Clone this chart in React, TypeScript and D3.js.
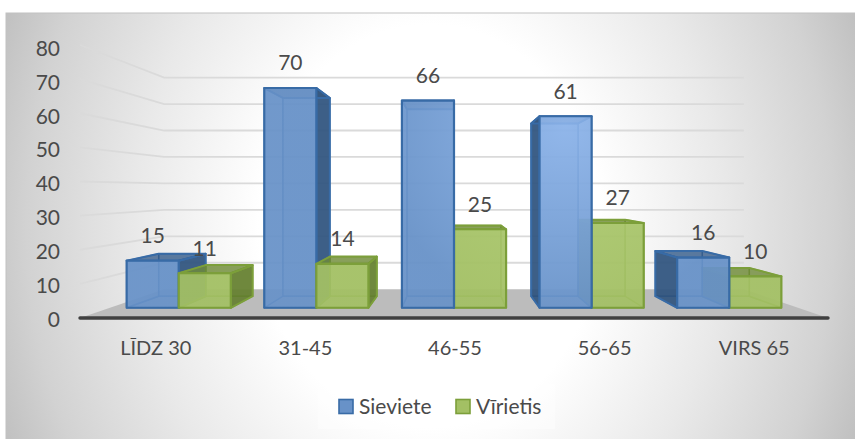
import { useEffect, useRef } from "react";
import * as d3 from "d3";

const categories = ["LĪDZ 30", "31-45", "46-55", "56-65", "VIRS 65"];
const seriesNames = ["Sieviete", "Vīrietis"];
const sieviete = [15, 70, 66, 61, 16];
const virietis = [11, 14, 25, 27, 10];
const yTicks = [0, 10, 20, 30, 40, 50, 60, 70, 80];

const width = 855;
const height = 439;
const fontFamily = "Lato, Carlito, sans-serif";
const textColor = "#4a4a4a";

// fake 3D: everything is laid out on the axis plane and then pulled toward a vanishing point
const vanishX = 454;
const vanishY = 190;
const depthAxis = 1;
const depthFront = 0.92;
const depthBack = 0.83;
const depthWall = 0.775;

const seriesStyle = [
  { light: "#8fb6ec", base: "#6892c8", stroke: "#386ba6", side: "#2c4f78" },
  { light: "#b0cd74", base: "#a3c064", stroke: "#7c9f3a", side: "#5f7a2c" },
];

const App = () => {
  const svgRef = useRef<SVGSVGElement>(null);

  useEffect(() => {
    if (!svgRef.current) return;
    const svg = d3.select(svgRef.current);
    svg.selectAll("*").remove();

    const x = d3.scaleBand<string>().domain(categories).range([80, 828]).paddingInner(0.243).paddingOuter(0.1215);
    const xInner = d3.scaleBand<string>().domain(seriesNames).range([0, x.bandwidth()]);
    const y = d3.scaleLinear().domain([0, 80]).range([318, 45]);
    const yLabel = d3.scaleLinear().domain([0, 80]).range([319.5, 48.5]);

    const project = (px: number, value: number, depth: number): [number, number] => [
      vanishX + (px - vanishX) * depth,
      vanishY + (y(value) - vanishY) * depth,
    ];
    const poly = (pts: [number, number][]) => d3.line()(pts) + "Z";

    const defs = svg.append("defs");
    const bg = defs
      .append("radialGradient")
      .attr("id", "bg")
      .attr("gradientUnits", "userSpaceOnUse")
      .attr("cx", 0)
      .attr("cy", 0)
      .attr("r", 1)
      .attr("gradientTransform", "translate(430,226) scale(475,560)");
    [
      [0, "#ffffff"],
      [0.36, "#ffffff"],
      [0.62, "#e9e9e9"],
      [0.85, "#d2d2d2"],
      [1, "#bcbcbc"],
    ].forEach(([o, c]) => bg.append("stop").attr("offset", o).attr("stop-color", c));

    // the light sits over the fourth group, the fronts brighten around it
    seriesStyle.forEach((s, i) => {
      const g = defs
        .append("radialGradient")
        .attr("id", `bar-${i}`)
        .attr("gradientUnits", "userSpaceOnUse")
        .attr("cx", 565)
        .attr("cy", 125)
        .attr("r", 190);
      g.append("stop").attr("offset", 0).attr("stop-color", s.light);
      g.append("stop").attr("offset", 1).attr("stop-color", s.base);
    });

    svg.append("rect").attr("width", width).attr("height", height).attr("fill", "#ffffff");
    svg
      .append("rect")
      .attr("x", 6)
      .attr("y", 13)
      .attr("width", width)
      .attr("height", height)
      .attr("fill", "url(#bg)")
      .attr("stroke", "#c2c2c2");

    // floor
    svg
      .append("path")
      .attr(
        "d",
        poly([project(80, 0, depthAxis), project(80, 0, depthWall), project(828, 0, depthWall), project(828, 0, depthAxis)])
      )
      .attr("fill", "#bcbcbc");

    // gridlines bend at the back wall
    yTicks
      .filter((t) => t > 0)
      .forEach((t) => {
        svg
          .append("path")
          .attr("d", d3.line()([project(80, t, depthAxis), project(80, t, depthWall), project(828, t, depthWall)]))
          .attr("fill", "none")
          .attr("stroke", "#dadada")
          .attr("stroke-width", 1.8);
      });

    svg
      .append("line")
      .attr("x1", 80)
      .attr("x2", 828)
      .attr("y1", y(0))
      .attr("y2", y(0))
      .attr("stroke", "#404040")
      .attr("stroke-width", 3.4)
      .attr("stroke-linecap", "round");

    const drawBar = (cat: string, seriesIndex: number, value: number) => {
      const style = seriesStyle[seriesIndex];
      const x0 = x(cat)! + xInner(seriesNames[seriesIndex])!;
      const x1 = x0 + xInner.bandwidth();
      const isLeft = (x0 + x1) / 2 < vanishX;
      const g = svg.append("g").attr("stroke", style.stroke).attr("stroke-linejoin", "round");

      const face = (pts: [number, number][], fill: string, opacity: number, sw = 1.4, so = 0.7) =>
        g
          .append("path")
          .attr("d", poly(pts))
          .attr("fill", fill)
          .attr("fill-opacity", opacity)
          .attr("stroke-width", sw)
          .attr("stroke-opacity", so);

      const corner = (px: number, v: number, d: number) => project(px, v, d);
      const nearX = isLeft ? x1 : x0; // side that shows outside the front face
      const farX = isLeft ? x0 : x1;

      // back, bottom, hidden side
      face(
        [corner(x0, 0, depthBack), corner(x1, 0, depthBack), corner(x1, value, depthBack), corner(x0, value, depthBack)],
        style.base,
        0.6
      );
      face(
        [corner(x0, 0, depthFront), corner(x1, 0, depthFront), corner(x1, 0, depthBack), corner(x0, 0, depthBack)],
        style.base,
        0.4
      );
      face(
        [corner(farX, 0, depthFront), corner(farX, value, depthFront), corner(farX, value, depthBack), corner(farX, 0, depthBack)],
        style.base,
        0.5
      );
      // outer side, top
      const inCentre = Math.abs((x0 + x1) / 2 - vanishX) < xInner.bandwidth();
      face(
        [corner(nearX, 0, depthFront), corner(nearX, value, depthFront), corner(nearX, value, depthBack), corner(nearX, 0, depthBack)],
        style.side,
        inCentre ? 0.5 : 0.85,
        2,
        1
      );
      face(
        [corner(x0, value, depthFront), corner(x1, value, depthFront), corner(x1, value, depthBack), corner(x0, value, depthBack)],
        style.side,
        0.6,
        2,
        1
      );
      // front
      face(
        [corner(x0, 0, depthFront), corner(x1, 0, depthFront), corner(x1, value, depthFront), corner(x0, value, depthFront)],
        `url(#bar-${seriesIndex})`,
        0.88,
        2.2,
        1
      );
    };

    // painter's order: the bar closer to the middle of the chart goes on top
    categories.forEach((cat, i) => {
      const order = i < 2 ? [0, 1] : [1, 0];
      order.forEach((s) => drawBar(cat, s, s === 0 ? sieviete[i] : virietis[i]));
    });

    const label = (tx: number, ty: number, txt: string, anchor = "middle", size = 21) =>
      svg
        .append("text")
        .attr("x", tx)
        .attr("y", ty)
        .attr("dy", "0.35em")
        .attr("text-anchor", anchor)
        .attr("font-family", fontFamily)
        .attr("font-size", size)
        .attr("fill", textColor)
        .text(txt);

    // data labels
    categories.forEach((cat, i) => {
      [sieviete[i], virietis[i]].forEach((v, s) => {
        const cx = x(cat)! + xInner(seriesNames[s])! + xInner.bandwidth() / 2;
        const [lx, ly] = project(cx, v, depthFront);
        label(lx, ly - 25, String(v));
      });
    });

    yTicks.forEach((t) => label(60, yLabel(t), String(t), "end"));
    categories.forEach((cat) => label(x(cat)! + x.bandwidth() / 2 + 1, 348, cat, "middle", 20));

    // legend
    const legend = svg.append("g");
    legend
      .append("rect")
      .attr("x", 318)
      .attr("y", 384)
      .attr("width", 237)
      .attr("height", 45)
      .attr("fill", "#ffffff")
      .attr("fill-opacity", 0.4);
    const legendX = [339, 456];
    seriesNames.forEach((name, i) => {
      legend
        .append("rect")
        .attr("x", legendX[i])
        .attr("y", 399.5)
        .attr("width", 14)
        .attr("height", 14)
        .attr("fill", seriesStyle[i].base)
        .attr("stroke", seriesStyle[i].stroke)
        .attr("stroke-width", 1.6);
      label(legendX[i] + 20, 406.5, name, "start");
    });
  }, []);

  return <svg ref={svgRef} width={width} height={height} style={{ position: "absolute", left: 0, top: 0 }} />;
};

export default App;
